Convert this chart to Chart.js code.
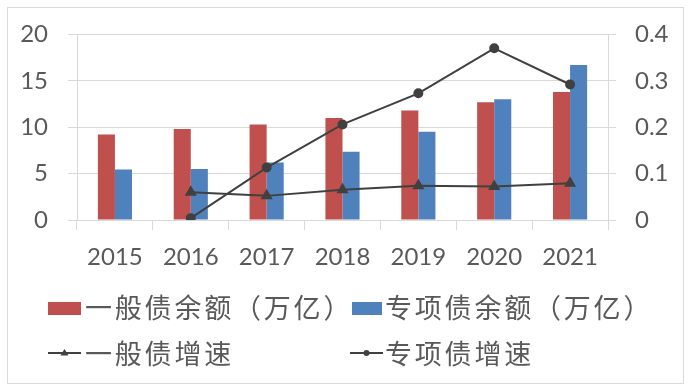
<!DOCTYPE html>
<html>
<head>
<meta charset="utf-8">
<script src="https://cdn.jsdelivr.net/npm/chart.js@4"></script>
<style>
  body { margin: 0; background: #fff; }
  #wrap { position: relative; width: 691px; height: 387px; }
  #frame { position: absolute; left: 7px; top: 7px; width: 675px; height: 375px; border: 1px solid #d9d9d9; }
  #my-chart { position: absolute; left: 0; top: 0; }
  .lg { position: absolute; font-family: "Noto Sans CJK SC", sans-serif; font-size: 27px; letter-spacing: 2.8px; line-height: 32px; color: #595959; white-space: nowrap; }
  .sw { position: absolute; }
</style>
</head>
<body>
<div id="wrap">
  <div id="frame"></div>
  <canvas id="my-chart" width="691" height="387"></canvas>
  <div id="legend"></div>
</div>
<script>
'use strict';

let years = ['2015', '2016', '2017', '2018', '2019', '2020', '2021'];
let generalDebt = [9.2, 9.8, 10.3, 11.0, 11.8, 12.7, 13.8];
let specialDebt = [5.45, 5.5, 6.2, 7.35, 9.5, 13.0, 16.7];
let generalGrowth = [null, 0.060, 0.052, 0.065, 0.074, 0.072, 0.079];
let specialGrowth = [null, 0.004, 0.113, 0.206, 0.273, 0.370, 0.292];
let seriesNames = ['一般债余额（万亿）', '专项债余额（万亿）', '一般债增速', '专项债增速'];

let textColor = '#595959';
let gridColor = '#d9d9d9';
let tickFont = { family: 'Lato, "Noto Sans", sans-serif', size: 24 };

let canvasElem = document.getElementById('my-chart');

function renderLegend() {
  let lg = document.getElementById('legend');
  let html = '';
  // row 1: bar swatches
  html += '<div class="sw" style="left:48px;top:302px;width:33px;height:13px;background:#c0504d"></div>';
  html += '<div class="lg" style="left:85px;top:291px">' + seriesNames[0] + '</div>';
  html += '<div class="sw" style="left:352px;top:302px;width:30px;height:13px;background:#4f81bd"></div>';
  html += '<div class="lg" style="left:385px;top:291px">' + seriesNames[1] + '</div>';
  // row 2: line swatches
  html += '<svg class="sw" style="left:48px;top:346px" width="34" height="14">' +
    '<line x1="0" y1="7" x2="33" y2="7" stroke="#404040" stroke-width="2"/>' +
    '<polygon points="16.5,3 20.5,9.5 12.5,9.5" fill="#404040"/></svg>';
  html += '<div class="lg" style="left:85px;top:337px">' + seriesNames[2] + '</div>';
  html += '<svg class="sw" style="left:350px;top:346px" width="34" height="14">' +
    '<line x1="0" y1="7" x2="33" y2="7" stroke="#404040" stroke-width="2"/>' +
    '<circle cx="16.5" cy="7" r="3" fill="#404040"/></svg>';
  html += '<div class="lg" style="left:385px;top:337px">' + seriesNames[3] + '</div>';
  lg.innerHTML = html;
}

function renderChart() {
  let chartObj = {
    type: 'bar',
    data: {
      labels: years,
      datasets: [{
        label: seriesNames[0],
        data: generalDebt,
        backgroundColor: '#c0504d',
        yAxisID: 'y',
        order: 2
      },
      {
        label: seriesNames[1],
        data: specialDebt,
        backgroundColor: '#4f81bd',
        yAxisID: 'y',
        order: 2
      },
      {
        type: 'line',
        label: seriesNames[2],
        data: generalGrowth,
        borderColor: '#404040',
        backgroundColor: '#404040',
        borderWidth: 2,
        pointStyle: 'triangle',
        pointRadius: 5,
        yAxisID: 'y1',
        order: 1
      },
      {
        type: 'line',
        label: seriesNames[3],
        data: specialGrowth,
        borderColor: '#404040',
        backgroundColor: '#404040',
        borderWidth: 2,
        pointStyle: 'circle',
        pointRadius: 4,
        yAxisID: 'y1',
        order: 1
      }]
    },
    options: {
      responsive: false,
      animation: false,
      layout: { padding: { top: 34, left: 0, right: 0, bottom: 0 } },
      datasets: {
        bar: { categoryPercentage: 0.45, barPercentage: 1 }
      },
      scales: {
        x: {
          grid: { offset: true, drawOnChartArea: false, drawTicks: true, tickLength: 10, color: gridColor },
          border: { color: gridColor },
          ticks: { color: textColor, font: tickFont, padding: 13, maxRotation: 0 },
          afterFit: function (s) { s.height = 387 - 34 - 186; }
        },
        y: {
          position: 'left',
          min: 0,
          max: 20,
          ticks: { stepSize: 5, color: textColor, font: tickFont, padding: 20 },
          grid: { color: gridColor, tickLength: 9 },
          border: { color: gridColor },
          afterFit: function (s) { s.width = 77; }
        },
        y1: {
          position: 'right',
          min: 0,
          max: 0.4,
          ticks: { stepSize: 0.1, color: textColor, font: tickFont, padding: 19 },
          grid: { drawOnChartArea: false, color: gridColor, tickLength: 8 },
          border: { color: gridColor },
          afterFit: function (s) { s.width = 691 - 608; }
        }
      },
      plugins: {
        legend: { display: false },
        tooltip: { enabled: false }
      }
    }
  };

  new Chart(canvasElem, chartObj); //eslint-disable-line
}

renderLegend();
renderChart();
</script>
</body>
</html>
